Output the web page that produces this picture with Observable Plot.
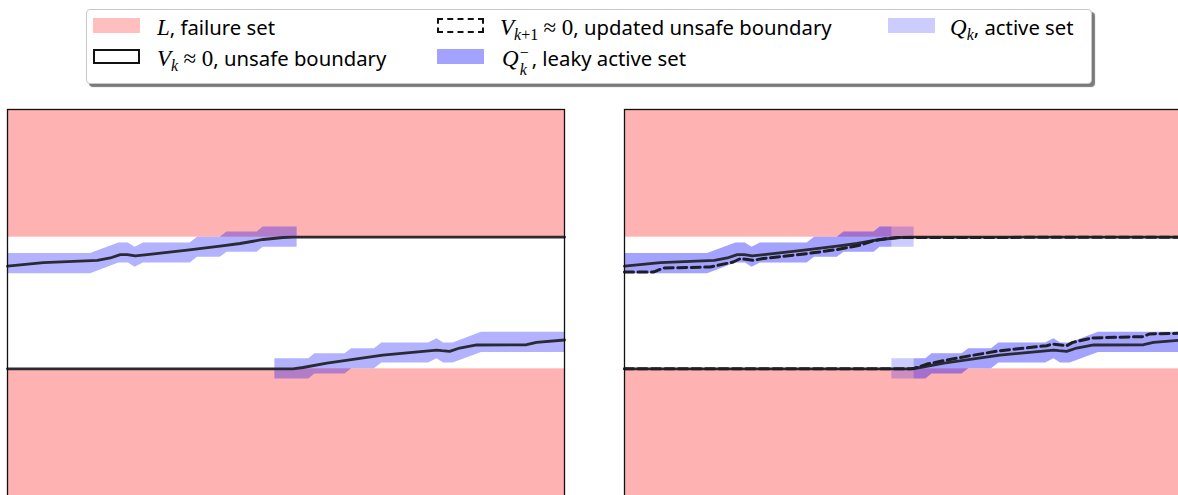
<!DOCTYPE html>
<html><head><meta charset="utf-8">
<script src="https://cdn.jsdelivr.net/npm/d3@7"></script>
<script src="https://cdn.jsdelivr.net/npm/@observablehq/plot@0.6"></script>
<style>
html,body{margin:0;padding:0;background:#fff;width:1178px;height:495px;overflow:hidden;}
#root{position:relative;width:1178px;height:495px;font-family:"Noto Sans",sans-serif;}
.legend{position:absolute;left:86px;top:9px;width:1006px;height:75px;box-sizing:border-box;border:1px solid #c8c8c8;border-radius:4px;background:#fff;box-shadow:3px 3px 1px #7a7a7a;}
.sw{position:absolute;width:47px;height:15px;box-sizing:border-box;}
.lab{position:absolute;white-space:nowrap;font-size:20.3px;color:#000;height:26px;line-height:26px;}
.m{font-family:"Liberation Serif",serif;font-style:italic;font-size:23px;}
.u{font-family:"Liberation Serif",serif;font-size:23px;}
.sub{font-family:"Liberation Serif",serif;font-size:16px;position:relative;top:5px;}
.stack{display:inline-block;position:relative;width:13px;height:10px;}
.stack .sp{position:absolute;left:1px;top:-16px;font-family:"Liberation Serif",serif;font-size:16px;}
.stack .sb{position:absolute;left:1px;top:1px;font-family:"Liberation Serif",serif;font-style:italic;font-size:16px;}
.panel{position:absolute;top:109px;width:557px;height:387px;}
</style></head>
<body><div id="root">
<div class="legend"></div>
<div class="sw" style="left:93px;top:18px;background:rgba(255,0,0,0.25)"></div>
<div class="lab" style="left:157px;top:14px"><span class="m">L</span>, failure set</div>
<div class="sw" style="left:93px;top:49px;border:2px solid #111;background:#fff"></div>
<div class="lab" style="left:157px;top:45px"><span class="m">V</span><span class="sub"><i>k</i></span> <span class="u">≈ 0</span>, unsafe boundary</div>
<div class="sw" style="left:437px;top:18px;border:2px dashed #111;background:#fff"></div>
<div class="lab" style="left:500px;top:14px"><span class="m">V</span><span class="sub"><i>k</i>+1</span> <span class="u">≈ 0</span>, updated unsafe boundary</div>
<div class="sw" style="left:437px;top:49px;background:rgba(0,0,255,0.36)"></div>
<div class="lab" style="left:502px;top:45px"><span class="m">Q</span><span class="stack"><span class="sp">−</span><span class="sb">k</span></span>, leaky active set</div>
<div class="sw" style="left:888px;top:18px;background:rgba(0,0,255,0.2)"></div>
<div class="lab" style="left:950px;top:14px"><span class="m">Q</span><span class="sub"><i>k</i></span>, active set</div>
</div>
<script>
// ---- data (state units) ----
const xDomain = [0, 10];
const yDomain = [-2.94, 2.94];
const failureLow = [-2.94, -1];
const failureHigh = [1, 2.94];

// V_k ≈ 0 (unsafe boundary), upper and lower contours
const vkUpperX = [0, 0.645, 1.613, 1.846, 2.025, 2.15, 2.294, 2.509, 3.226, 3.817, 4.176, 4.588, 4.946, 5.125, 10];
const vkUpperY = [0.56, 0.614, 0.649, 0.684, 0.736, 0.736, 0.715, 0.736, 0.802, 0.863, 0.904, 0.965, 0.995, 1.0, 1.0];
const vkLowerX = [0, 5.125, 5.305, 5.735, 6.738, 7.706, 7.796, 7.939, 8.118, 8.423, 9.319, 9.498, 10];
const vkLowerY = [-1, -1, -0.98, -0.913, -0.791, -0.715, -0.725, -0.736, -0.684, -0.638, -0.634, -0.598, -0.562];

// V_{k+1} ≈ 0 (updated unsafe boundary)
const vk1UpperX = [0, 0.52, 0.699, 1.541, 1.953, 2.079, 2.312, 2.491, 3.28, 3.817, 4.229, 4.462, 4.713, 4.892, 10];
const vk1UpperY = [0.47, 0.47, 0.531, 0.547, 0.623, 0.675, 0.649, 0.675, 0.751, 0.812, 0.878, 0.944, 0.98, 0.995, 1.0];
const vk1LowerX = [0, 5.179, 5.43, 5.717, 6.201, 6.738, 7.581, 7.688, 7.939, 8.047, 8.405, 9.301, 9.427, 10];
const vk1LowerY = [-1, -1, -0.928, -0.878, -0.802, -0.725, -0.649, -0.623, -0.649, -0.598, -0.531, -0.511, -0.47, -0.46];

// Q_k active set bands (lower / upper edges)
const qUpperX  = [0, 1.49, 2.0, 2.17, 2.29, 2.44, 3.28, 3.41, 3.82, 3.94, 4.48, 4.59, 5.2];
const qUpperLo = [0.445, 0.445, 0.607, 0.607, 0.542, 0.607, 0.607, 0.694, 0.694, 0.771, 0.771, 0.847, 0.847];
const qUpperHi = [0.751, 0.751, 0.913, 0.913, 0.848, 0.913, 0.913, 1.0, 1.0, 1.077, 1.077, 1.153, 1.153];
const qLowerX  = [4.8, 5.41, 5.52, 6.06, 6.18, 6.59, 6.72, 7.56, 7.71, 7.83, 8.0, 8.51, 10];
const qLowerLo = [-1.153, -1.153, -1.077, -1.077, -1.0, -1.0, -0.913, -0.913, -0.848, -0.913, -0.913, -0.751, -0.751];
const qLowerHi = [-0.847, -0.847, -0.771, -0.771, -0.694, -0.694, -0.607, -0.607, -0.542, -0.607, -0.607, -0.445, -0.445];
// Q_k^- leaky active set extent (right panel)
const leakyUpperEnd = 4.8;
const leakyLowerStart = 5.2;

// ---- build tables ----
const pts = (xs, ys) => xs.map((x, i) => ({x, y: ys[i]}));
const band = (xs, lo, hi) => xs.map((x, i) => ({x, lo: lo[i], hi: hi[i]}));
const failure = [
  {x1: xDomain[0], x2: xDomain[1], y1: failureHigh[0], y2: failureHigh[1]},
  {x1: xDomain[0], x2: xDomain[1], y1: failureLow[0], y2: failureLow[1]}
];
const vkU = pts(vkUpperX, vkUpperY), vkL = pts(vkLowerX, vkLowerY);
const vk1U = pts(vk1UpperX, vk1UpperY), vk1L = pts(vk1LowerX, vk1LowerY);
const qU = band(qUpperX, qUpperLo, qUpperHi), qL = band(qLowerX, qLowerLo, qLowerHi);
const clipTo = (b, a, z) => {
  const xs = b.map(d => d.x);
  const out = b.filter(d => d.x >= a && d.x <= z);
  const interp = (x) => {
    for (let i = 1; i < b.length; i++) if (b[i].x >= x) {
      const t = (x - b[i-1].x) / (b[i].x - b[i-1].x);
      return {x, lo: b[i-1].lo + t*(b[i].lo-b[i-1].lo), hi: b[i-1].hi + t*(b[i].hi-b[i-1].hi)};
    }
    return b[b.length-1];
  };
  if (a > xs[0]) out.unshift(interp(a));
  if (z < xs[xs.length-1]) out.push(interp(z));
  return out;
};
const leakyU = clipTo(qU, -Infinity, leakyUpperEnd);
const leakyL = clipTo(qL, leakyLowerStart, Infinity);

function makePanel(left, marks) {
  const svg = Plot.plot({
    width: 557, height: 387, margin: 0,
    x: {domain: xDomain, axis: null},
    y: {domain: yDomain, axis: null},
    style: {overflow: "visible", maxWidth: "none", background: "transparent"},
    marks
  });
  const div = document.createElement("div");
  div.className = "panel";
  div.style.left = left + "px";
  div.appendChild(svg);
  document.getElementById("root").appendChild(div);
}

const failureMark = Plot.rect(failure, {x1: "x1", x2: "x2", y1: "y1", y2: "y2", fill: "red", fillOpacity: 0.3});
const lineOpts = {x: "x", y: "y", stroke: "#2a2a33", strokeWidth: 2.8, curve: "linear", strokeLinejoin: "round"};
const dashOpts = {x: "x", y: "y", stroke: "#1e1e26", strokeWidth: 3, strokeDasharray: "9,4.5", curve: "linear"};
const areaOpts = (op) => ({x: "x", y1: "lo", y2: "hi", fill: "blue", fillOpacity: op, curve: "linear"});

makePanel(7, [
  failureMark,
  Plot.areaY(qU, areaOpts(0.3)),
  Plot.areaY(qL, areaOpts(0.3)),
  Plot.line(vkU, lineOpts),
  Plot.line(vkL, lineOpts),
  Plot.frame({stroke: "#111", strokeWidth: 1.3})
]);

makePanel(624, [
  failureMark,
  Plot.areaY(qU, areaOpts(0.2)),
  Plot.areaY(qL, areaOpts(0.2)),
  Plot.areaY(leakyU, areaOpts(0.2)),
  Plot.areaY(leakyL, areaOpts(0.2)),
  Plot.line(vkU, lineOpts),
  Plot.line(vkL, lineOpts),
  Plot.line(vk1U, dashOpts),
  Plot.line(vk1L, dashOpts),
  Plot.frame({stroke: "#111", strokeWidth: 1.3})
]);
</script>
</body></html>
